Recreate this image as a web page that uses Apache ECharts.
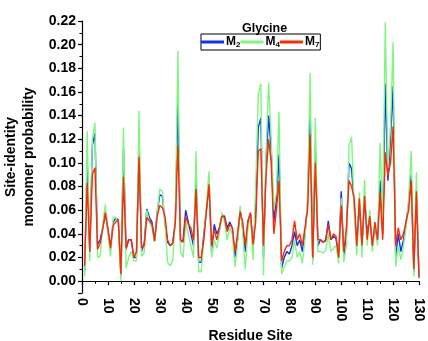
<!DOCTYPE html>
<html><head><meta charset="utf-8">
<script src="https://cdn.jsdelivr.net/npm/echarts@6/dist/echarts.min.js"></script>
<style>html,body{margin:0;padding:0;background:#fff}#c{width:428px;height:341px}</style>
</head><body><div id="c"></div>
<script>
const residues = Array.from({length:130},(_,k)=>k+1);
const seriesNames = ['M2','M4','M7'];
const m2 = [0.008,0.103,0.025,0.115,0.125,0.031,0.035,0.045,0.057,0.044,
0.028,0.050,0.053,0.052,0.004,0.112,0.027,0.035,0.035,0.020,
0.020,0.112,0.025,0.032,0.061,0.054,0.050,0.034,0.058,0.073,
0.072,0.050,0.033,0.030,0.032,0.050,0.150,0.033,0.035,0.060,
0.050,0.040,0.030,0.085,0.016,0.016,0.040,0.060,0.082,0.024,
0.048,0.040,0.045,0.056,0.055,0.045,0.050,0.045,0.020,0.035,
0.060,0.045,0.025,0.050,0.057,0.028,0.060,0.130,0.138,0.020,
0.100,0.140,0.110,0.050,0.070,0.107,0.011,0.020,0.025,0.023,
0.030,0.042,0.030,0.035,0.025,0.040,0.065,0.143,0.018,0.115,
0.030,0.035,0.033,0.034,0.051,0.035,0.038,0.036,0.020,0.076,
0.020,0.040,0.100,0.095,0.065,0.030,0.065,0.030,0.070,0.040,
0.055,0.030,0.045,0.035,0.085,0.040,0.167,0.085,0.120,0.165,
0.020,0.040,0.025,0.035,0.050,0.065,0.090,0.008,0.075,0.003];
const m4 = [0.004,0.127,0.017,0.120,0.134,0.020,0.021,0.048,0.065,0.040,
0.021,0.054,0.054,0.048,0.000,0.130,0.011,0.020,0.025,0.017,
0.017,0.144,0.021,0.024,0.060,0.050,0.045,0.033,0.058,0.078,
0.076,0.049,0.016,0.013,0.018,0.052,0.195,0.025,0.020,0.050,
0.040,0.030,0.020,0.110,0.008,0.008,0.035,0.065,0.093,0.020,
0.035,0.028,0.040,0.058,0.050,0.035,0.045,0.040,0.012,0.030,
0.064,0.040,0.010,0.045,0.055,0.018,0.080,0.158,0.167,0.005,
0.110,0.168,0.120,0.060,0.075,0.143,0.006,0.012,0.017,0.017,
0.020,0.035,0.020,0.025,0.015,0.035,0.070,0.176,0.014,0.138,
0.025,0.025,0.024,0.026,0.040,0.025,0.028,0.030,0.015,0.070,
0.016,0.030,0.115,0.122,0.060,0.022,0.075,0.020,0.086,0.030,
0.060,0.025,0.050,0.030,0.117,0.050,0.219,0.095,0.130,0.202,
0.012,0.030,0.018,0.030,0.045,0.070,0.110,0.004,0.092,0.002];
const m7 = [0.013,0.083,0.025,0.090,0.096,0.027,0.032,0.044,0.058,0.044,
0.028,0.047,0.050,0.052,0.006,0.088,0.028,0.035,0.035,0.020,
0.025,0.105,0.028,0.030,0.054,0.051,0.048,0.034,0.055,0.064,
0.062,0.055,0.035,0.030,0.032,0.050,0.115,0.035,0.033,0.055,
0.048,0.045,0.035,0.078,0.020,0.020,0.035,0.060,0.082,0.030,
0.044,0.035,0.045,0.055,0.054,0.042,0.048,0.045,0.025,0.040,
0.059,0.050,0.030,0.051,0.058,0.031,0.050,0.110,0.112,0.030,
0.090,0.120,0.100,0.040,0.060,0.085,0.017,0.025,0.030,0.030,
0.035,0.051,0.035,0.040,0.030,0.045,0.060,0.124,0.020,0.100,
0.035,0.035,0.033,0.035,0.048,0.035,0.040,0.038,0.020,0.064,
0.025,0.045,0.085,0.080,0.070,0.030,0.070,0.030,0.072,0.035,
0.055,0.030,0.050,0.035,0.075,0.035,0.109,0.089,0.100,0.131,
0.030,0.045,0.035,0.040,0.050,0.060,0.085,0.010,0.076,0.003];
const subs = {M2:'2',M4:'4',M7:'7'};
const colors = ['#1030ff','#80f580','#ff2a00'];
const FONT = '"Liberation Sans", Arial, sans-serif';
const pairs = arr => residues.map((r,k)=>[r,arr[k]]);
const chart = echarts.init(document.getElementById('c'));
chart.setOption({
  animation:false,
  textStyle:{fontFamily:FONT},
  title:{text:'Glycine',left:237,top:17,
    textStyle:{fontSize:12.5,fontWeight:'bold',color:'#000',fontFamily:FONT}},
  legend:{left:201,top:34,orient:'horizontal',borderColor:'#000',borderWidth:1,
    padding:[2,1,1,0],itemGap:0,itemWidth:23,itemHeight:3,icon:'rect',
    formatter:n=>'{m|M}{s|'+subs[n]+'}',
    textStyle:{color:'#000',padding:[0,0,0,-3],rich:{
      m:{fontSize:12,fontWeight:'bold',fontFamily:FONT,color:'#000'},
      s:{fontSize:8,fontWeight:'bold',fontFamily:FONT,color:'#000',padding:[6,0,0,0]}}},
    data:seriesNames},
  grid:{left:82,right:9,top:21,bottom:48,outerBoundsMode:'none',containLabel:false},
  xAxis:{type:'value',min:0,max:130,interval:10,
    name:'Residue Site',nameLocation:'middle',nameGap:33,
    nameTextStyle:{fontSize:14,fontWeight:'bold',color:'#000',fontFamily:FONT},
    axisLine:{lineStyle:{color:'#000',width:1.2}},
    axisTick:{length:4,lineStyle:{color:'#000',width:1.2}},
    minorTick:{show:true,splitNumber:2,length:2.5,lineStyle:{color:'#000',width:1}},
    splitLine:{show:false},
    axisLabel:{rotate:-90,margin:5,fontSize:14,fontWeight:'bold',color:'#000',fontFamily:FONT}},
  yAxis:{type:'value',min:-0.01,max:0.22,splitNumber:11,
    name:'Site-identity\nmonomer probability',nameLocation:'middle',nameRotate:90,nameGap:36,
    nameTextStyle:{fontSize:14,fontWeight:'bold',color:'#000',lineHeight:18,fontFamily:FONT},
    axisLine:{lineStyle:{color:'#000',width:1.2}},
    axisTick:{length:4,lineStyle:{color:'#000',width:1.2}},
    minorTick:{show:true,splitNumber:2,length:2.5,lineStyle:{color:'#000',width:1}},
    splitLine:{show:false},
    axisLabel:{margin:6,fontSize:14,fontWeight:'bold',color:'#000',fontFamily:FONT,
      formatter:v=>v<-0.001?'':v.toFixed(2)}},
  series:[
    {name:'M2',type:'line',data:pairs(m2),symbol:'none',lineStyle:{color:colors[0],width:1.4},itemStyle:{color:colors[0]}},
    {name:'M4',type:'line',data:pairs(m4),symbol:'none',lineStyle:{color:colors[1],width:1.4},itemStyle:{color:colors[1]}},
    {name:'M7',type:'line',data:pairs(m7),symbol:'none',lineStyle:{color:colors[2],width:1.4},itemStyle:{color:colors[2]}}
  ]
});
</script></body></html>
